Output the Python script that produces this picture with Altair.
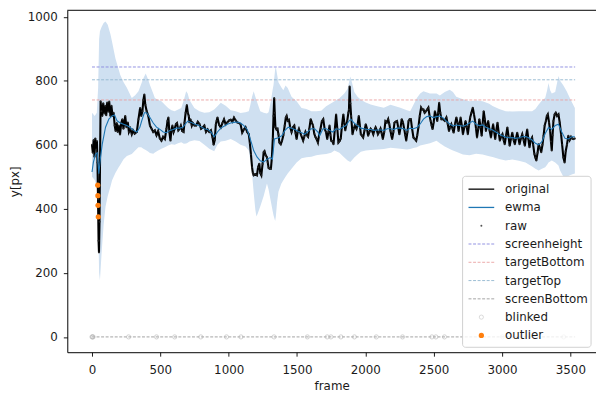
import altair as alt
import pandas as pd

# ---------------- data ----------------
original = [
    (0, 600), (6, 575), (12, 615), (18, 562), (24, 620), (30, 585), (36, 612), (40, 545),
    (44, 430), (48, 300), (51, 264), (55, 360), (59, 560), (63, 736), (69, 705), (75, 690),
    (82, 730), (90, 698), (97, 722), (104, 692), (111, 732), (118, 703), (126, 735), (135, 690),
    (142, 722), (150, 690), (158, 700), (166, 660), (173, 643), (181, 668), (188, 640), (196, 660),
    (205, 632), (214, 668), (222, 680), (230, 650), (243, 690), (252, 655), (262, 670), (270, 640),
    (280, 650), (291, 633), (300, 645), (312, 635), (328, 640), (340, 680), (352, 715), (360, 690),
    (369, 705), (376, 740), (383, 757), (390, 725), (400, 705), (412, 690), (424, 660), (436, 650),
    (448, 640), (460, 645), (472, 630), (484, 643), (496, 620), (508, 613), (520, 625), (533, 618),
    (545, 650), (552, 674), (559, 685), (566, 640), (574, 613), (581, 645), (588, 660), (597, 640),
    (605, 650), (614, 665), (622, 668), (632, 645), (641, 650), (650, 660), (660, 643), (670, 640),
    (677, 670), (685, 700), (694, 724), (701, 700), (708, 690), (713, 670), (720, 680), (730, 660),
    (737, 668), (750, 660), (762, 660), (774, 672), (786, 665), (798, 650), (810, 654), (822, 660),
    (834, 640), (846, 648), (858, 640), (870, 645), (882, 623), (890, 600), (898, 615), (906, 664),
    (912, 675), (918, 685), (930, 662), (942, 654), (954, 668), (966, 680), (978, 664), (990, 670),
    (1003, 676), (1015, 678), (1027, 672), (1039, 685), (1051, 676), (1063, 670), (1075, 668),
    (1087, 664), (1099, 638), (1111, 648), (1123, 655), (1135, 640), (1147, 633), (1155, 605),
    (1163, 570), (1171, 530), (1177, 512), (1183, 505), (1195, 508), (1207, 505), (1215, 530),
    (1224, 541), (1231, 512), (1239, 505), (1248, 540), (1256, 577), (1262, 580), (1270, 568),
    (1280, 561), (1286, 545), (1292, 528), (1300, 525), (1309, 525), (1316, 560), (1323, 620),
    (1328, 690), (1333, 746), (1337, 700), (1342, 655), (1350, 648), (1357, 650), (1364, 633),
    (1371, 607), (1381, 602), (1390, 612), (1400, 630), (1410, 660), (1418, 685), (1424, 690),
    (1432, 675), (1441, 678), (1450, 655), (1460, 640), (1470, 655), (1480, 660), (1490, 635),
    (1497, 618), (1505, 640), (1514, 650), (1522, 640), (1530, 630), (1545, 613), (1553, 625),
    (1562, 640), (1572, 630), (1581, 625), (1590, 650), (1600, 680), (1608, 670), (1617, 660),
    (1626, 635), (1634, 625), (1643, 618), (1653, 607), (1663, 635), (1672, 650), (1682, 674),
    (1692, 680), (1702, 650), (1712, 640), (1721, 618), (1730, 640), (1738, 660), (1745, 630),
    (1750, 613), (1760, 610), (1767, 602), (1777, 650), (1786, 695), (1795, 650), (1803, 607),
    (1812, 612), (1820, 620), (1829, 660), (1839, 695), (1846, 670), (1853, 645), (1860, 660),
    (1867, 674), (1876, 700), (1880, 710), (1885, 782), (1890, 730), (1896, 690), (1906, 633),
    (1915, 650), (1923, 660), (1935, 650), (1944, 665), (1952, 690), (1960, 660), (1967, 633),
    (1976, 628), (1984, 623), (1994, 645), (2003, 664), (2012, 650), (2020, 628), (2030, 640),
    (2039, 650), (2048, 645), (2058, 633), (2066, 645), (2075, 654), (2084, 645), (2092, 633),
    (2101, 640), (2111, 650), (2120, 635), (2128, 618), (2138, 640), (2147, 674), (2157, 670),
    (2167, 680), (2175, 665), (2184, 643), (2190, 630), (2196, 618), (2205, 640), (2213, 669),
    (2222, 672), (2232, 674), (2240, 655), (2249, 633), (2258, 655), (2266, 680), (2275, 670),
    (2285, 648), (2292, 630), (2299, 613), (2308, 640), (2316, 674), (2324, 680), (2333, 680),
    (2342, 650), (2352, 623), (2362, 618), (2372, 613), (2380, 630), (2388, 654), (2398, 690),
    (2408, 716), (2416, 710), (2425, 710), (2434, 700), (2444, 705), (2452, 710), (2461, 716),
    (2470, 690), (2478, 674), (2485, 660), (2492, 649), (2500, 670), (2509, 705), (2518, 690),
    (2526, 674), (2533, 700), (2540, 731), (2548, 700), (2557, 680), (2569, 680), (2581, 675),
    (2593, 685), (2603, 665), (2612, 643), (2620, 655), (2629, 664), (2638, 650), (2646, 638),
    (2656, 665), (2666, 685), (2674, 670), (2682, 643), (2690, 665), (2697, 685), (2706, 660),
    (2714, 633), (2724, 655), (2733, 674), (2742, 655), (2750, 633), (2758, 660), (2767, 685),
    (2776, 700), (2786, 716), (2795, 695), (2803, 674), (2810, 650), (2817, 623), (2826, 650),
    (2834, 680), (2843, 655), (2851, 628), (2858, 665), (2866, 705), (2874, 680), (2882, 643),
    (2890, 660), (2899, 674), (2909, 645), (2919, 623), (2927, 645), (2935, 664), (2943, 640),
    (2950, 618), (2958, 645), (2967, 669), (2975, 640), (2984, 613), (2993, 625), (3003, 633),
    (3012, 615), (3020, 602), (3030, 630), (3039, 654), (3048, 625), (3056, 597), (3066, 620),
    (3075, 638), (3085, 615), (3094, 602), (3102, 620), (3111, 638), (3120, 620), (3128, 602),
    (3138, 620), (3148, 633), (3158, 615), (3167, 597), (3175, 625), (3184, 648), (3192, 620),
    (3201, 592), (3210, 615), (3220, 623), (3228, 600), (3237, 571), (3244, 560), (3251, 551),
    (3260, 575), (3268, 602), (3278, 590), (3287, 577), (3296, 600), (3304, 628), (3312, 660),
    (3321, 674), (3328, 690), (3335, 695), (3344, 670), (3352, 643), (3358, 610), (3364, 582),
    (3370, 630), (3376, 674), (3385, 695), (3393, 700), (3403, 690), (3413, 695), (3422, 670),
    (3432, 633), (3440, 600), (3449, 560), (3458, 545), (3466, 580), (3475, 600), (3485, 628),
    (3495, 615), (3505, 625), (3513, 620), (3521, 618), (3533, 620),
]

ewma = [
    (0, 515), (10, 545), (25, 570), (38, 575), (50, 510), (62, 560), (75, 602), (99, 655),
    (123, 680), (147, 690), (165, 693), (183, 675), (207, 668), (231, 664), (255, 660), (280, 654),
    (305, 645), (328, 640), (350, 655), (364, 675), (383, 700), (400, 700), (424, 685), (448, 668),
    (472, 655), (497, 648), (521, 640), (545, 638), (570, 645), (593, 648), (617, 652), (641, 652),
    (665, 655), (689, 668), (701, 674), (725, 670), (750, 665), (774, 662), (798, 656), (822, 650),
    (846, 648), (870, 640), (894, 625), (918, 640), (942, 652), (966, 658), (990, 664), (1015, 668),
    (1039, 670), (1063, 671), (1087, 668), (1111, 660), (1135, 648), (1147, 633), (1171, 600),
    (1183, 582), (1207, 562), (1231, 550), (1256, 546), (1280, 555), (1304, 560), (1320, 555),
    (1335, 618), (1364, 622), (1388, 628), (1412, 645), (1436, 655), (1460, 652), (1484, 648),
    (1509, 642), (1533, 638), (1557, 633), (1581, 642), (1605, 650), (1629, 650), (1653, 640),
    (1665, 628), (1690, 650), (1714, 650), (1738, 645), (1762, 640), (1786, 650), (1810, 648),
    (1834, 655), (1858, 660), (1882, 675), (1894, 680), (1918, 668), (1942, 660), (1967, 652),
    (1991, 650), (2015, 648), (2039, 648), (2063, 645), (2087, 646), (2111, 646), (2135, 645),
    (2160, 650), (2184, 650), (2208, 648), (2232, 652), (2256, 652), (2280, 650), (2304, 645),
    (2328, 652), (2352, 650), (2377, 654), (2401, 665), (2425, 680), (2449, 688), (2473, 690),
    (2497, 685), (2521, 688), (2545, 690), (2569, 684), (2593, 674), (2617, 665), (2641, 659),
    (2665, 662), (2690, 660), (2714, 658), (2738, 662), (2762, 668), (2786, 674), (2810, 664),
    (2834, 660), (2858, 662), (2882, 655), (2906, 650), (2931, 646), (2955, 640), (2979, 633),
    (3003, 628), (3027, 624), (3051, 622), (3075, 623), (3099, 620), (3123, 622), (3148, 625),
    (3172, 626), (3196, 622), (3220, 615), (3244, 605), (3268, 600), (3292, 610), (3316, 635),
    (3340, 654), (3364, 648), (3389, 660), (3413, 664), (3437, 640), (3461, 620), (3485, 618),
    (3509, 625), (3533, 625),
]

# (frame, lower, upper) of the shaded band
band = [
    (0, 500, 700), (20, 490, 690), (35, 470, 700), (45, 350, 780), (52, 200, 930), (58, 177, 955),
    (70, 260, 968), (85, 350, 980), (99, 407, 985), (115, 440, 975), (135, 470, 945),
    (147, 489, 921), (171, 512, 870), (195, 530, 835), (207, 538, 818), (231, 555, 795),
    (255, 565, 778), (291, 571, 746), (316, 582, 755), (340, 592, 767), (360, 592, 790),
    (376, 588, 808), (393, 584, 823), (410, 579, 805), (424, 574, 787), (448, 572, 760),
    (460, 576, 746), (484, 582, 740), (508, 588, 736), (533, 592, 725), (557, 598, 715),
    (581, 602, 708), (605, 600, 705), (630, 605, 710), (653, 608, 715), (672, 603, 740),
    (689, 604, 767), (700, 606, 760), (713, 610, 740), (749, 614, 715), (786, 612, 705),
    (822, 600, 700), (858, 588, 702), (894, 580, 710), (918, 600, 720), (942, 610, 731),
    (978, 613, 722), (1015, 618, 708), (1051, 610, 705), (1087, 600, 699), (1123, 595, 702),
    (1147, 582, 705), (1159, 551, 725), (1171, 510, 750), (1183, 450, 767), (1195, 397, 750),
    (1203, 376, 740), (1212, 385, 728), (1231, 407, 705), (1256, 440, 700), (1280, 479, 698),
    (1292, 460, 702), (1310, 420, 740), (1321, 395, 770), (1328, 380, 787), (1340, 362, 835),
    (1345, 375, 844), (1354, 420, 820), (1364, 453, 795), (1385, 478, 780), (1400, 489, 770),
    (1416, 500, 785), (1432, 510, 777), (1460, 525, 750), (1497, 545, 736), (1533, 558, 715),
    (1569, 561, 712), (1605, 563, 705), (1641, 567, 705), (1677, 570, 706), (1713, 571, 720),
    (1750, 575, 730), (1774, 582, 736), (1810, 575, 745), (1846, 560, 760), (1870, 551, 775),
    (1890, 546, 813), (1905, 553, 790), (1919, 560, 765), (1943, 570, 750), (1967, 578, 741),
    (2003, 582, 732), (2039, 584, 726), (2087, 585, 720), (2135, 587, 716), (2184, 591, 725),
    (2256, 588, 716), (2304, 585, 708), (2328, 587, 705), (2352, 590, 725), (2377, 592, 746),
    (2401, 598, 760), (2425, 600, 767), (2473, 605, 760), (2521, 613, 760), (2545, 605, 754),
    (2581, 595, 765), (2617, 587, 772), (2641, 582, 765), (2665, 578, 750), (2714, 570, 742),
    (2762, 567, 736), (2810, 572, 738), (2858, 570, 736), (2906, 564, 728), (2931, 562, 721),
    (2979, 556, 712), (3027, 551, 705), (3075, 554, 704), (3123, 550, 705), (3172, 545, 705),
    (3220, 532, 705), (3244, 525, 712), (3268, 520, 726), (3292, 525, 738), (3316, 530, 746),
    (3330, 538, 770), (3340, 545, 793), (3352, 548, 770), (3364, 551, 760), (3389, 545, 765),
    (3413, 535, 815), (3425, 520, 800), (3449, 500, 785), (3473, 500, 767), (3497, 505, 745),
    (3515, 508, 730), (3533, 510, 715),
]

outliers = [(42, 474), (43, 441), (44, 411), (46, 375)]

blinked_frames = [0, 4, 8, 268, 472, 605, 796, 984, 1090, 1332, 1576, 1721, 1748, 1821,
                  1920, 2080, 2272, 2487, 2516, 2579, 3003, 3451]
blinked_value = 0

levels = ["screenheight", "targetBottom", "targetTop", "screenBottom"]
level_values = [843, 740, 803, 0]
level_colors = ["#8686de", "#eaa0a0", "#8fb6cf", "#9a9a9a"]
level_start, level_end = 0, 3535

x_ticks = [0, 500, 1000, 1500, 2000, 2500, 3000, 3500]
y_ticks = [0, 200, 400, 600, 800, 1000]

# ---------------- tables ----------------
orig_df = pd.DataFrame(original, columns=["frame", "y"])
ewma_df = pd.DataFrame(ewma, columns=["frame", "y"])
band_df = pd.DataFrame(band, columns=["frame", "lo", "hi"])
out_df = pd.DataFrame(outliers, columns=["frame", "y"])
blink_df = pd.DataFrame({"frame": blinked_frames, "y": [blinked_value] * len(blinked_frames)})
lev_df = pd.DataFrame({"name": levels, "y": level_values, "color": level_colors,
                       "x0": level_start, "x1": level_end})

W, H = 535, 346
xs = alt.Scale(domain=[-180.8, 3687.6], nice=False, zero=False)
ys = alt.Scale(domain=[-47.8, 1020.1], nice=False, zero=False)
FONT = "DejaVu Sans"

X = alt.X("frame:Q", scale=xs,
          axis=alt.Axis(values=x_ticks, title="frame", format="d", grid=False))
Y = lambda f: alt.Y(f, scale=ys,
                    axis=alt.Axis(values=y_ticks, title="y[px]", format="d", grid=False))

band_layer = alt.Chart(band_df).mark_area(color="#cfe0f1", opacity=1).encode(
    x=X, y=Y("hi:Q"), y2="lo:Q")

lev_layers = []
for name, val, col in zip(levels, level_values, level_colors):
    lev_layers.append(
        alt.Chart(lev_df[lev_df["name"] == name]).mark_rule(
            color=col, strokeWidth=0.9, strokeDash=[3, 1.6]).encode(
            x=alt.X("x0:Q", scale=xs), x2="x1:Q", y=alt.Y("y:Q", scale=ys)))

blink_layer = alt.Chart(blink_df).mark_point(
    shape="circle", filled=False, color="#b0b0b0", size=18, strokeWidth=0.8).encode(
    x=X, y=Y("y:Q"))

orig_layer = alt.Chart(orig_df).mark_line(color="black", strokeWidth=2.1).encode(
    x=X, y=Y("y:Q"))
raw_layer = alt.Chart(orig_df).mark_circle(color="#222222", size=4, opacity=1).encode(
    x=X, y=Y("y:Q"))
ewma_layer = alt.Chart(ewma_df).mark_line(color="#1f77b4", strokeWidth=1.1).encode(
    x=X, y=Y("y:Q"))
out_layer = alt.Chart(out_df).mark_circle(color="#ff7f0e", size=28, opacity=1).encode(
    x=X, y=Y("y:Q"))

# top spine of the frame
one = pd.DataFrame({"k": [0]})
top_spine = alt.Chart(one).mark_rule(color="black", strokeWidth=1).encode(
    x=alt.value(0), x2=alt.value(W), y=alt.value(0))

# ---------------- legend (drawn like matplotlib's box) ----------------
LX0, LX1, LY0, LY1 = 400, 530, 168, 341
SX0, SX1, TX = 406, 432, 443
ROW0, STEP = 181, 18.5
legend = [alt.Chart(one).mark_rect(fill="white", fillOpacity=0.8, stroke="#d0d0d0",
                                   strokeWidth=1, cornerRadius=3).encode(
    x=alt.value(LX0), x2=alt.value(LX1), y=alt.value(LY0), y2=alt.value(LY1))]
labels = ["original", "ewma", "raw"] + levels + ["blinked", "outlier"]
for i, lab in enumerate(labels):
    yy = ROW0 + STEP * i
    if lab == "original":
        legend.append(alt.Chart(one).mark_rule(color="black", strokeWidth=1.3).encode(
            x=alt.value(SX0), x2=alt.value(SX1), y=alt.value(yy)))
    elif lab == "ewma":
        legend.append(alt.Chart(one).mark_rule(color="#1f77b4", strokeWidth=1.3).encode(
            x=alt.value(SX0), x2=alt.value(SX1), y=alt.value(yy)))
    elif lab == "raw":
        legend.append(alt.Chart(one).mark_circle(color="#555555", size=4, opacity=1).encode(
            x=alt.value((SX0 + SX1) / 2), y=alt.value(yy)))
    elif lab in levels:
        col = level_colors[levels.index(lab)]
        legend.append(alt.Chart(one).mark_rule(color=col, strokeWidth=0.9,
                                               strokeDash=[3, 1.6]).encode(
            x=alt.value(SX0), x2=alt.value(SX1), y=alt.value(yy)))
    elif lab == "blinked":
        legend.append(alt.Chart(one).mark_point(shape="circle", filled=False, color="#c0c0c0",
                                                size=18, strokeWidth=0.8).encode(
            x=alt.value((SX0 + SX1) / 2), y=alt.value(yy)))
    else:
        legend.append(alt.Chart(one).mark_circle(color="#ff7f0e", size=28, opacity=1).encode(
            x=alt.value((SX0 + SX1) / 2), y=alt.value(yy)))
    legend.append(alt.Chart(one).mark_text(
        text=lab, align="left", baseline="middle", font=FONT, fontSize=12,
        color="#1a1a1a").encode(x=alt.value(TX), y=alt.value(yy)))

chart = alt.layer(
    band_layer, *lev_layers, blink_layer, orig_layer, raw_layer, ewma_layer, out_layer,
    top_spine, *legend
).properties(
    width=W, height=H,
    autosize=alt.AutoSizeParams(type="none"),
    padding={"left": 60, "top": 0, "right": 0, "bottom": 42},
).configure_view(stroke=None).configure_axis(
    labelFont=FONT, titleFont=FONT, labelFontSize=12, titleFontSize=12,
    titleFontWeight="normal", labelColor="#1a1a1a", titleColor="#1a1a1a",
    domainColor="black", domainWidth=1, tickColor="black", tickWidth=0.9, tickSize=4,
).configure_axisX(labelPadding=9, titlePadding=5).configure_axisY(titlePadding=6,
                                                                   labelPadding=6)

chart.save("out.html", embed_options={"renderer": "svg", "actions": False})
